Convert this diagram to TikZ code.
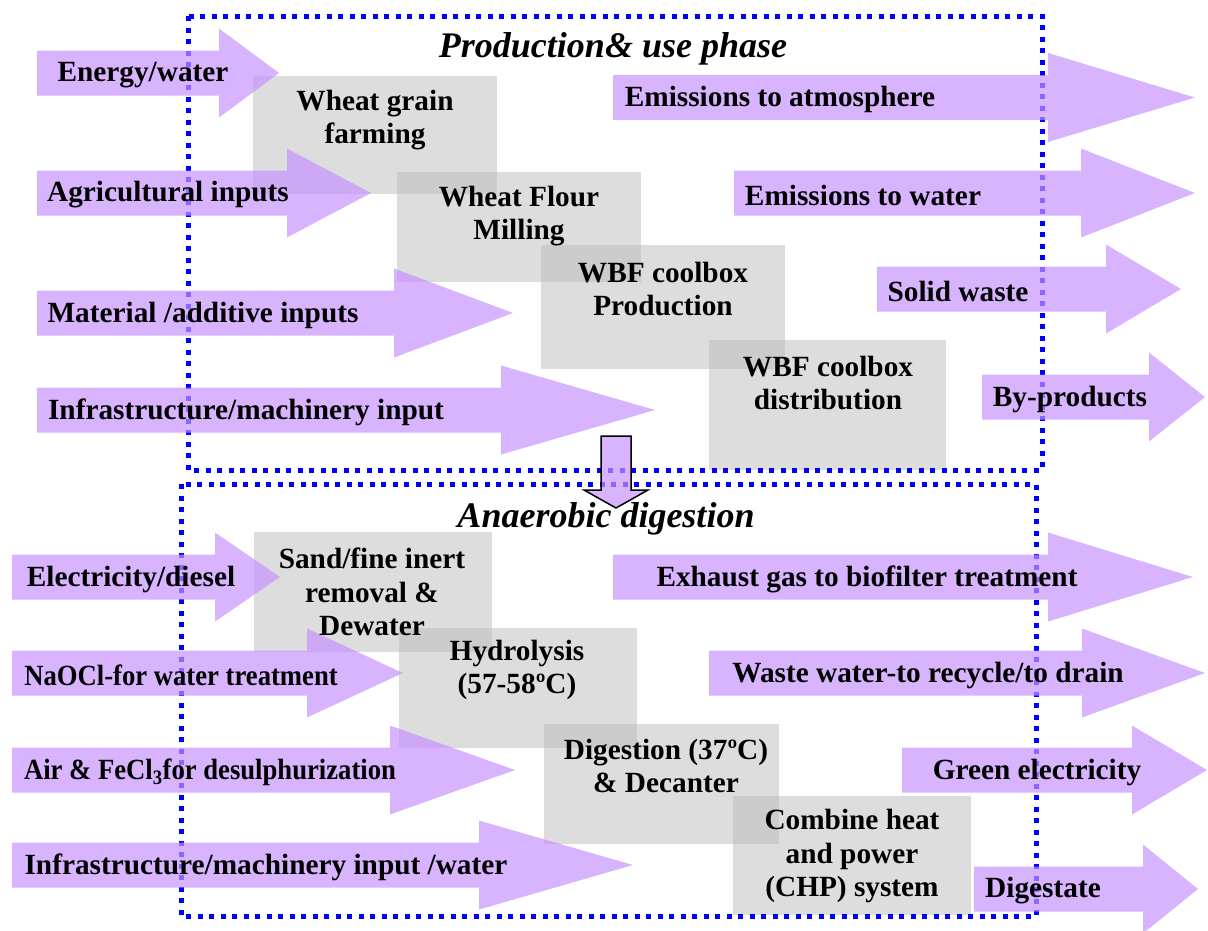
\documentclass[tikz,border=0pt]{standalone}
\usepackage{fontspec}
\usepackage{graphicx}
\setmainfont{Liberation Serif}
\definecolor{arrowpurple}{RGB}{199,148,255}
\definecolor{boxgray}{RGB}{187,187,187}
\definecolor{dotblue}{RGB}{0,0,255}
\newcommand{\fatarr}[4]{%
  \fill[arrowfill] (#1,#4-22.5) -- (#2,#4-22.5) -- (#2,#4-44.5) -- (#3,#4)
    -- (#2,#4+44.5) -- (#2,#4+22.5) -- (#1,#4+22.5) -- cycle;}
\newcommand{\graybx}[4]{\fill[graybox] (#1,#2) rectangle (#3,#4);}
\tikzset{
  arrowfill/.style={fill=arrowpurple, fill opacity=0.7},
  graybox/.style={fill=boxgray, fill opacity=0.5},
  phasebox/.style={draw=dotblue, line width=5pt, dash pattern=on 5pt off 6.5pt},
  lbl/.style={font=\bfseries\fontsize{29.3}{33.5}\selectfont, inner sep=0pt, align=center, text=black, yshift=-2pt},
  ttl/.style={font=\bfseries\itshape\fontsize{36}{40}\selectfont, inner sep=0pt, yshift=-4pt},
  downarr/.style={draw=black, line width=1.5pt, fill=arrowpurple, fill opacity=0.7, draw opacity=1},
}
\begin{document}
\begin{tikzpicture}[x=1pt,y=-1pt]
\useasboundingbox (0,0) rectangle (1208,930);
% process boxes
\graybx{253}{76}{497}{194}
\graybx{397}{172}{641}{282}
\graybx{541}{245}{785}{369}
\graybx{709}{340}{946}{470}
\graybx{254}{532}{492}{652}
\graybx{399}{628}{637}{748}
\graybx{544}{724}{779}{844}
\graybx{733}{796}{971}{915}
% phase boxes
\draw[phasebox] (188,16) rectangle (1042,470);
\draw[phasebox] (181,484) rectangle (1036,916);
% flow arrows
\fatarr{37}{219}{279}{73}
\fatarr{37}{287}{371}{193}
\fatarr{37}{394}{513}{313}
\fatarr{37}{501}{655}{410}
\fatarr{613}{1048}{1195}{97.5}
\fatarr{734}{1081}{1195}{193}
\fatarr{877}{1106}{1181}{289}
\fatarr{982}{1149}{1205}{397}
\fatarr{12}{215}{280}{577}
\fatarr{12}{307}{403}{673}
\fatarr{12}{390}{515}{770}
\fatarr{12}{479}{633}{865}
\fatarr{613}{1048}{1193}{577}
\fatarr{709}{1082}{1205}{673}
\fatarr{902}{1132}{1207}{770}
\fatarr{974}{1143}{1198}{889}
% down arrow between phases
\draw[downarr] (601,436) -- (631,436) -- (631,490) -- (648,490) -- (616,508) -- (584,490) -- (601,490) -- cycle;
% titles
\node[ttl] (t1) at (613,45) {Production\& use phase};
\node[ttl] (t2) at (606,515) {Anaerobic digestion};
% process labels
\node[lbl] (p1) at (375,118) {Wheat grain\\farming};
\node[lbl] (p2) at (519,214) {Wheat Flour\\Milling};
\node[lbl] (p3) at (663,287) {WBF coolbox\\Production};
\node[lbl] (p4) at (828,381) {WBF coolbox\\distribution};
\node[lbl] (p5) at (372,590) {Sand/fine inert\\removal \&\\Dewater};
\node[lbl] (p6) at (517,668) {Hydrolysis\\(57-58ºC)};
\node[lbl] (p7) at (666,764) {Digestion (37ºC)\\\& Decanter};
\node[lbl] (p8) at (852,854) {Combine heat\\and power\\(CHP) system};
% input labels
\node[lbl] (i1) at (143,73) {Energy/water};
\node[lbl] (i2) at (168,193) {Agricultural inputs};
\node[lbl] (i3) at (203,313) {Material /additive inputs};
\node[lbl] (i4) at (246,410) {Infrastructure/machinery input};
\node[lbl] (i5) at (131,577) {Electricity/diesel};
\node[lbl] (i6) at (181,673) {\scalebox{0.91}[1]{NaOCl-for water treatment}};
\node[lbl] (i7) at (210,770) {\scalebox{0.91}[1]{Air \& FeCl\textsubscript{3}for desulphurization}};
\node[lbl] (i8) at (266,865) {Infrastructure/machinery input /water};
% output labels
\node[lbl] (o1) at (780,97) {Emissions to atmosphere};
\node[lbl] (o2) at (863,193) {Emissions to water};
\node[lbl] (o3) at (958,289) {Solid waste};
\node[lbl] (o4) at (1070,397) {By-products};
\node[lbl] (o5) at (867,577) {Exhaust gas to biofilter treatment};
\node[lbl] (o6) at (928,673) {Waste water-to recycle/to drain};
\node[lbl] (o7) at (1037,770) {Green electricity};
\node[lbl] (o8) at (1043,889) {Digestate};
\end{tikzpicture}
\end{document}
